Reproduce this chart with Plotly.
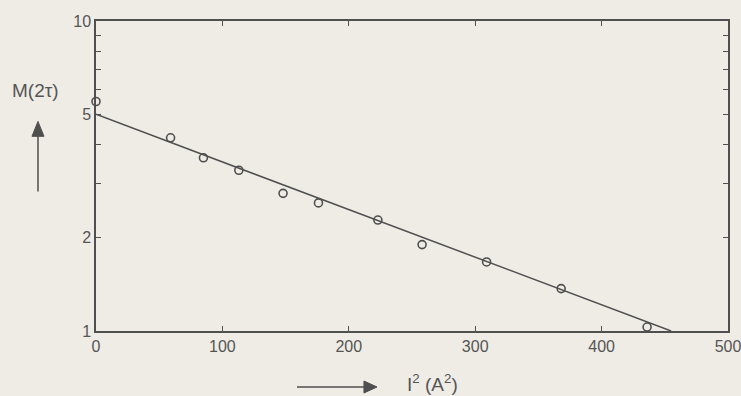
import plotly.graph_objects as go

# Data
x_points = [0, 59, 85, 113, 148, 176, 223, 258, 309, 368, 436]
y_points = [5.5, 4.2, 3.62, 3.3, 2.78, 2.59, 2.28, 1.9, 1.67, 1.37, 1.03]
line_x = [0, 455]
line_y = [5.0, 1.0]
x_ticks = [0, 100, 200, 300, 400, 500]
y_ticks = [1, 2, 5, 10]
y_tick_labels = ["1", "2", "5", "10"]
y_minor_ticks = [3, 4, 6, 7, 8, 9]

ink = "#4f4f4f"
paper = "#eeece5"
font = "Liberation Sans"
txt = "#555555"

fig = go.Figure()
fig.add_trace(go.Scatter(x=line_x, y=line_y, mode="lines",
                         line=dict(color=ink, width=1.5), showlegend=False,
                         cliponaxis=False))
fig.add_trace(go.Scatter(x=x_points, y=y_points, mode="markers",
                         marker=dict(symbol="circle-open", size=8, color=ink,
                                     line=dict(color=ink, width=1.6)),
                         showlegend=False, cliponaxis=False))

fig.update_xaxes(range=[0, 500], tickvals=x_ticks, ticks="inside", ticklen=5,
                 tickwidth=1.2, tickcolor=ink, showline=True, linecolor=ink,
                 linewidth=1.5, mirror="ticks", showgrid=False, zeroline=False,
                 ticklabeloverflow="allow", automargin=False,
                 tickfont=dict(family=font, size=16, color=txt))
fig.update_yaxes(type="log", range=[0, 1], tickvals=y_ticks, ticktext=y_tick_labels,
                 ticks="inside", ticklen=5, tickwidth=1.2, tickcolor=ink,
                 minor=dict(tickvals=y_minor_ticks, ticks="inside", ticklen=5,
                            tickwidth=1.2, tickcolor=ink),
                 showline=True, linecolor=ink, linewidth=1.5, mirror="ticks",
                 showgrid=False, zeroline=False, ticklabeloverflow="allow",
                 automargin=False,
                 tickfont=dict(family=font, size=16, color=txt))

fig.add_annotation(xref="paper", yref="paper", x=-0.095, y=0.777,
                   xanchor="center", yanchor="middle",
                   text="M(2τ)", showarrow=False,
                   font=dict(family=font, size=19, color=txt))
fig.add_annotation(xref="paper", yref="paper", x=0.532, y=-0.168,
                   xanchor="center", yanchor="middle",
                   text="I<sup>2</sup> (A<sup>2</sup>)", showarrow=False,
                   font=dict(family=font, size=19, color=txt))

# arrows (paper coords): vertical at x=-0.0918, horizontal at y=-0.1806
fig.add_shape(type="line", xref="paper", yref="paper",
              x0=-0.0918, x1=-0.0918, y0=0.45, y1=0.66,
              line=dict(color=ink, width=1.5))
fig.add_shape(type="path", xref="paper", yref="paper",
              path="M -0.1013 0.628 L -0.0823 0.628 L -0.0918 0.676 Z",
              fillcolor=ink, line=dict(color=ink, width=1))
fig.add_shape(type="line", xref="paper", yref="paper",
              x0=0.318, x1=0.43, y0=-0.1806, y1=-0.1806,
              line=dict(color=ink, width=1.5))
fig.add_shape(type="path", xref="paper", yref="paper",
              path="M 0.424 -0.1613 L 0.424 -0.1999 L 0.4446 -0.1806 Z",
              fillcolor=ink, line=dict(color=ink, width=1))

fig.update_layout(width=741, height=396, paper_bgcolor=paper, plot_bgcolor=paper,
                  margin=dict(l=96, r=13, t=21, b=65, autoexpand=False))
fig.write_html("out.html", config={"displayModeBar": False},
               post_script="document.body.style.margin='0';document.body.style.padding='0';")
